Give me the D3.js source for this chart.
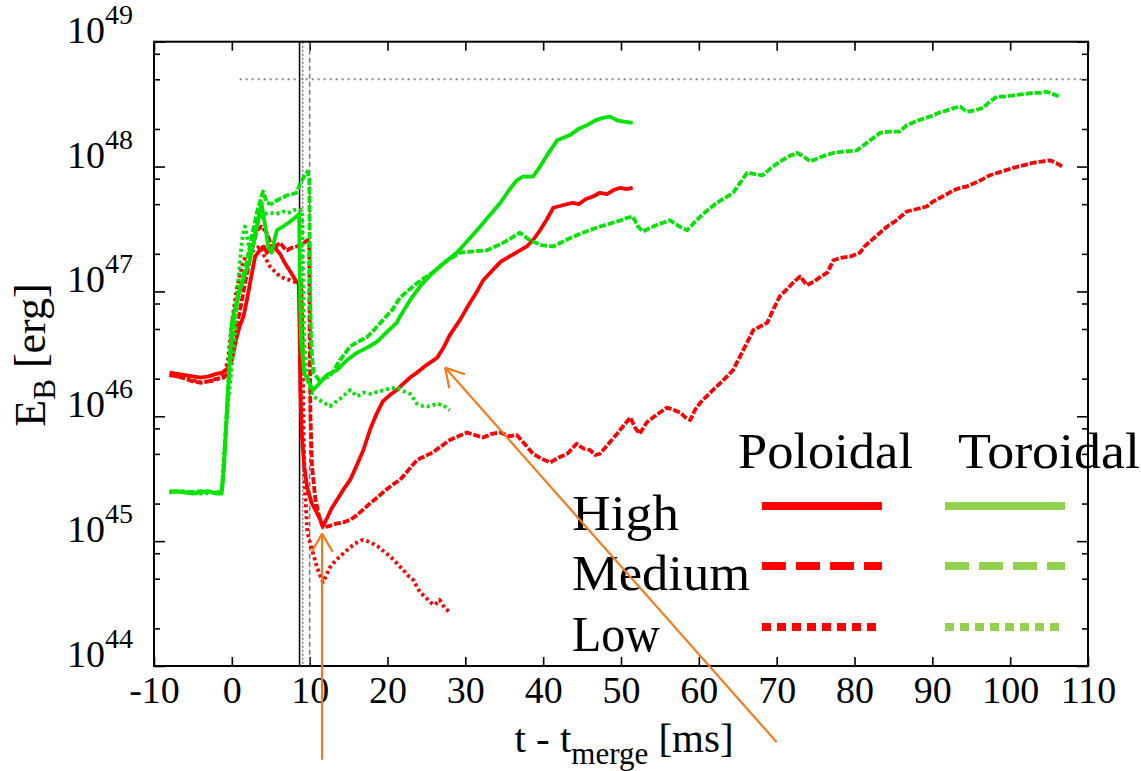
<!DOCTYPE html>
<html lang="en">
<head>
<meta charset="UTF-8" />
<title>Magnetic field energy</title>
<script src="https://d3js.org/d3.v7.min.js"></script>
<style>
  body { margin: 0; background: #fff; }
  svg { display: block; }
  svg text { font-family: "Liberation Serif", Tinos, "Times New Roman", "DejaVu Serif", serif !important; fill: #000; }
</style>
</head>
<body>
<svg id="chart" width="1141" height="771"></svg>
<script>
// values are [t - t_merge (ms), log10(E_B / erg)]
const polHigh = [[-8,46.35],[-7,46.34],[-6,46.33],[-5,46.32],[-4,46.31],[-3,46.32],[-2,46.34],[-1.2,46.35],[-0.6,46.38],[0,46.45],[0.5,46.6],[1,46.72],[1.5,46.8],[2,46.95],[2.5,47.12],[3,47.28],[3.6,47.33],[4.1,47.36],[4.5,47.31],[5,47.34],[5.4,47.37],[5.8,47.33],[6.2,47.3],[6.7,47.24],[7.1,47.2],[7.5,47.16],[7.9,47.12],[8.3,47.08],[8.6,47.06],[8.7,46.7],[8.8,46.2],[9,45.85],[9.3,45.6],[9.7,45.42],[10.3,45.3],[10.9,45.23],[11.3,45.18],[11.7,45.12],[12.2,45.18],[12.8,45.26],[13.5,45.33],[14.3,45.41],[15.2,45.49],[16,45.6],[16.9,45.73],[17.8,45.9],[18.6,46.02],[19.4,46.12],[20.3,46.17],[21.2,46.21],[22,46.26],[22.9,46.31],[23.8,46.35],[25,46.41],[26.4,46.47],[27.2,46.55],[28,46.65],[29.3,46.77],[30.5,46.9],[31.5,47],[32.3,47.09],[33.5,47.17],[34.6,47.24],[35.7,47.28],[36.8,47.32],[37.9,47.36],[38.8,47.42],[39.6,47.49],[40.5,47.58],[41.3,47.67],[42.5,47.69],[43.8,47.71],[44.6,47.7],[45.5,47.74],[46.4,47.76],[47.3,47.79],[48.2,47.78],[49,47.81],[49.9,47.83],[50.7,47.82],[51.5,47.83]];

const polMedium = [[-8,46.33],[-7,46.32],[-6,46.3],[-5,46.28],[-4,46.27],[-3,46.28],[-2,46.3],[-1,46.31],[-0.5,46.35],[0,46.5],[0.6,46.7],[1.2,46.9],[1.8,47.1],[2.4,47.28],[3.2,47.49],[3.8,47.52],[4.5,47.47],[5,47.38],[5.3,47.33],[5.8,47.37],[6.2,47.39],[6.7,47.35],[7.1,47.33],[7.7,47.35],[8.3,47.36],[8.8,47.37],[9.3,47.39],[9.7,47.41],[9.95,47.4],[10,46.6],[10.1,46],[10.3,45.6],[10.7,45.35],[11.2,45.2],[11.7,45.11],[12.5,45.12],[13.4,45.14],[14.3,45.15],[15.2,45.17],[16.1,45.21],[17,45.26],[17.9,45.31],[18.7,45.35],[19.6,45.4],[20.6,45.45],[21.6,45.49],[22.7,45.57],[23.8,45.65],[24.8,45.68],[25.8,45.71],[26.9,45.76],[28,45.81],[29.1,45.84],[30.2,45.87],[31.2,45.85],[32.3,45.83],[33.4,45.86],[34.5,45.87],[35.6,45.84],[36.6,45.85],[37.6,45.78],[38.7,45.7],[39.8,45.66],[40.9,45.63],[42,45.67],[43.1,45.7],[44.3,45.78],[45.2,45.74],[46,45.73],[46.7,45.69],[47.3,45.7],[48.4,45.78],[49.5,45.86],[50.4,45.93],[51.2,45.99],[51.8,45.91],[52.4,45.86],[53.3,45.95],[54.1,45.99],[55,46.03],[55.9,46.07],[56.8,46.05],[57.6,46.03],[58.3,45.99],[58.9,45.97],[59.5,46.05],[60.2,46.11],[61,46.16],[61.8,46.21],[63,46.28],[64.4,46.37],[65.3,46.48],[66.2,46.59],[67,46.69],[67.9,46.72],[68.8,46.75],[69.6,46.86],[70.4,46.96],[71.2,47.01],[72.1,47.07],[73,47.12],[73.9,47.05],[74.8,47.08],[75.7,47.12],[76.5,47.15],[77.3,47.25],[78.4,47.27],[79.5,47.28],[80.7,47.31],[81.3,47.36],[82,47.4],[83.1,47.46],[84.2,47.52],[85.4,47.57],[86.7,47.64],[88,47.66],[89.3,47.68],[90.1,47.72],[91,47.75],[91.9,47.78],[92.7,47.81],[93.6,47.83],[94.4,47.84],[95.9,47.88],[97.4,47.93],[98.9,47.96],[100.4,47.99],[101.7,48.01],[102.9,48.03],[104,48.04],[105.1,48.05],[105.9,48.03],[106.7,48]];

const polLow = [[-8,46.33],[-6,46.31],[-4,46.27],[-2,46.29],[-1,46.33],[-0.5,46.45],[0,46.75],[0.6,47.01],[1.1,47.15],[1.5,47.25],[2.2,47.3],[2.8,47.33],[3.6,47.36],[4.2,47.28],[4.9,47.2],[5.5,47.16],[6.2,47.12],[6.9,47.1],[7.5,47.09],[8.3,47.07],[8.9,47.05],[9.1,46.6],[9.2,45.9],[9.4,45.4],[9.7,45.07],[10.3,44.93],[11,44.78],[11.7,44.67],[12.6,44.79],[13.4,44.85],[14.3,44.9],[15.2,44.95],[16.1,44.99],[16.8,45.01],[17.4,45],[18.1,44.98],[18.7,44.96],[19.5,44.92],[20.3,44.88],[21.1,44.83],[22,44.77],[22.7,44.72],[23.3,44.69],[23.8,44.63],[24.2,44.59],[24.9,44.55],[25.5,44.51],[26.1,44.49],[26.7,44.53],[27.3,44.47],[28,44.43]];

const torHigh = [[-8,45.39],[-7,45.4],[-6,45.39],[-5,45.38],[-4,45.39],[-3,45.4],[-2,45.38],[-1.3,45.38],[-1,45.6],[-0.7,45.95],[-0.4,46.3],[0,46.75],[0.7,46.95],[1.5,47.1],[2.3,47.25],[3,47.45],[3.8,47.71],[4.3,47.52],[4.7,47.35],[5.1,47.31],[5.5,47.42],[5.8,47.49],[6.6,47.52],[7.5,47.56],[8.3,47.6],[8.65,47.62],[8.75,47],[8.9,46.6],[9.3,46.35],[10.4,46.21],[11.2,46.26],[12.2,46.33],[13.5,46.37],[14.8,46.45],[16.1,46.51],[17.4,46.55],[18.7,46.6],[20,46.68],[21.2,46.75],[21.6,46.8],[22.9,46.93],[24.3,47.05],[25.8,47.15],[27.3,47.23],[28.9,47.31],[30.2,47.4],[31.5,47.49],[33,47.6],[34.5,47.71],[35.6,47.81],[36.6,47.89],[37.4,47.92],[38.7,47.92],[39.6,48],[40.7,48.11],[41.8,48.21],[43.4,48.25],[44.5,48.3],[45.6,48.33],[46.7,48.37],[47.7,48.39],[48.6,48.4],[49.5,48.37],[50.4,48.36],[51.5,48.35]];

const torMedium = [[-8,45.4],[-6,45.39],[-4,45.4],[-2,45.39],[-1.3,45.39],[-1,45.65],[-0.6,46.1],[-0.2,46.5],[0.3,46.8],[1,47],[1.8,47.2],[2.6,47.45],[3.3,47.65],[4,47.8],[4.5,47.71],[5.1,47.7],[5.8,47.73],[6.5,47.75],[7.1,47.77],[7.8,47.78],[8.3,47.79],[8.8,47.87],[9.3,47.92],[9.7,47.96],[9.95,47.9],[10.05,47],[10.2,46.55],[10.5,46.35],[11.2,46.29],[12.6,46.32],[13.9,46.45],[15.2,46.56],[16.3,46.6],[17.3,46.63],[18.4,46.7],[19.4,46.77],[20.7,46.86],[21.6,46.95],[22.9,47.02],[24.3,47.09],[25.8,47.15],[27.5,47.24],[29.3,47.31],[31,47.32],[32.8,47.33],[34.9,47.39],[37,47.47],[38.3,47.41],[39.8,47.37],[41.3,47.36],[43.2,47.42],[45.1,47.47],[47.3,47.52],[49.5,47.56],[50.8,47.59],[51.5,47.6],[52.2,47.52],[52.8,47.48],[54.5,47.53],[56.3,47.57],[57.5,47.52],[58.5,47.49],[59.4,47.55],[60.2,47.6],[61.3,47.66],[62.3,47.71],[63.4,47.75],[64.4,47.79],[65.3,47.87],[66.2,47.95],[67.2,47.94],[68.2,47.93],[69.3,47.99],[70.4,48.04],[71.5,48.08],[72.6,48.11],[73.5,48.08],[74.3,48.04],[75.8,48.08],[77.3,48.11],[78.8,48.12],[80.3,48.13],[81.8,48.2],[83.3,48.27],[84.5,48.28],[85.8,48.28],[86.7,48.33],[88.2,48.37],[89.7,48.4],[90.8,48.43],[91.9,48.45],[92.8,48.47],[93.6,48.48],[94.4,48.44],[95.5,48.45],[96.5,48.47],[97.4,48.52],[98.3,48.56],[99.3,48.56],[100.4,48.57],[101.7,48.58],[102.9,48.59],[103.8,48.59],[104.7,48.6],[105.5,48.58],[106.4,48.56]];

const torLow = [[-8,45.39],[-6,45.4],[-4,45.38],[-2,45.39],[-1.3,45.39],[-1,45.7],[-0.5,46.1],[0,46.4],[0.4,46.63],[0.8,47.07],[1.3,47.41],[1.7,47.52],[2.3,47.33],[2.9,47.45],[3.5,47.58],[4.2,47.62],[4.9,47.63],[5.7,47.62],[6.6,47.64],[7.3,47.63],[7.9,47.65],[8.6,47.66],[9.05,47.65],[9.15,47],[9.3,46.6],[9.7,46.3],[10.4,46.16],[11.5,46.12],[12.6,46.08],[13.9,46.14],[15.2,46.21],[16.1,46.16],[17,46.19],[17.8,46.18],[19,46.2],[20.1,46.22],[21.2,46.23],[22.1,46.2],[22.9,46.18],[23.8,46.1],[24.6,46.08],[25.5,46.08],[26.3,46.1],[27.1,46.09],[28,46.05]];

// black hole formation times for high / low / medium resolution
const bhTimes = [8.7, 9.1, 10.0];
const limitEnergy = 5e48;
const limitStart = 1;

const xTicks = [-10, 0, 10, 20, 30, 40, 50, 60, 70, 80, 90, 100, 110];
const yExponents = [44, 45, 46, 47, 48, 49];
const minorMults = [2, 5, 8];

const resolutions = ["High", "Medium", "Low"];
const components = ["Poloidal", "Toroidal"];

// orange annotation arrows, [t, log10 E] of tail and tip
const arrowTails = [[11.6, 43.25], [70.0, 43.39]];
const arrowTips = [[11.6, 45.06], [27.4, 46.39]];

const W = 1141, H = 771;
const plotL = 154, plotR = 1088, plotT = 41.7, plotB = 666;

const svg = d3.select("#chart");
svg.append("rect").attr("width", W).attr("height", H).attr("fill", "#fff");

const x = d3.scaleLinear().domain([-10, 110]).range([plotL, plotR]);
const y = d3.scaleLog().domain([1e44, 1e49]).range([plotB, plotT]);

const red = "#ff0000", green = "#00e400";
const styles = {
  High: { dash: null },
  Medium: { dash: "7,2" },
  Low: { dash: "3,3" }
};

const series = [
  { data: polHigh, color: red, res: "High" },
  { data: polMedium, color: red, res: "Medium" },
  { data: polLow, color: red, res: "Low" },
  { data: torHigh, color: green, res: "High" },
  { data: torMedium, color: green, res: "Medium" },
  { data: torLow, color: green, res: "Low" }
];

// axes: ticks point inward and are mirrored on all sides
const minorVals = [];
yExponents.slice(0, -1).forEach(e => minorMults.forEach(m => minorVals.push(m * Math.pow(10, e))));
const majorVals = yExponents.map(e => Math.pow(10, e));

function addY(axisFn, xPos, vals, size) {
  svg.append("g")
    .attr("transform", `translate(${xPos},0)`)
    .call(axisFn(y).tickValues(vals).tickSizeInner(size).tickSizeOuter(0).tickFormat(""))
    .call(g => g.select(".domain").remove())
    .call(g => g.selectAll("line").attr("stroke", "#000").attr("stroke-width", 1.6));
}
addY(d3.axisLeft, plotL, majorVals, -11);
addY(d3.axisLeft, plotL, minorVals, -6);
addY(d3.axisRight, plotR, majorVals, -11);
addY(d3.axisRight, plotR, minorVals, -6);

svg.append("g")
  .attr("transform", `translate(0,${plotB})`)
  .call(d3.axisBottom(x).tickValues(xTicks).tickSizeInner(-9).tickSizeOuter(0).tickPadding(10)
    .tickFormat(d => String(d)))
  .call(g => g.select(".domain").remove())
  .call(g => g.selectAll("line").attr("stroke", "#000").attr("stroke-width", 1.6))
  .call(g => g.selectAll("text")
    .attr("font-size", 38)
    .attr("fill", "#000"));

svg.append("g")
  .attr("transform", `translate(0,${plotT})`)
  .call(d3.axisTop(x).tickValues(xTicks).tickSizeInner(-9).tickSizeOuter(0).tickFormat(""))
  .call(g => g.select(".domain").remove())
  .call(g => g.selectAll("line").attr("stroke", "#000").attr("stroke-width", 1.6));

// y tick labels 10^n
const yLab = svg.append("g");
yExponents.forEach(e => {
  const t = yLab.append("text")
    .attr("x", 133)
    .attr("y", y(Math.pow(10, e)) + 1)
    .attr("text-anchor", "end")
    .attr("font-size", 38);
  t.append("tspan").text("10");
  t.append("tspan").attr("font-size", 28).attr("dy", -19).text(e);
});

// reference lines
const bhStyle = [
  { color: "#000", dash: null, width: 1.5 },
  { color: "#777", dash: "2,2", width: 1.5 },
  { color: "#777", dash: "5,3", width: 1.5 }
];
bhTimes.forEach((t, i) => {
  svg.append("line")
    .attr("x1", x(t)).attr("x2", x(t))
    .attr("y1", plotT).attr("y2", plotB)
    .attr("stroke", bhStyle[i].color)
    .attr("stroke-width", bhStyle[i].width)
    .attr("stroke-dasharray", bhStyle[i].dash);
});

svg.append("line")
  .attr("x1", x(limitStart)).attr("x2", x(110))
  .attr("y1", y(limitEnergy)).attr("y2", y(limitEnergy))
  .attr("stroke", "#888")
  .attr("stroke-width", 2)
  .attr("stroke-dasharray", "2,4");

// data lines
const line = d3.line()
  .x(d => x(d[0]))
  .y(d => y(Math.pow(10, d[1])));

series.forEach(s => {
  svg.append("path")
    .datum(s.data)
    .attr("fill", "none")
    .attr("stroke", s.color)
    .attr("stroke-width", 3.8)
    .attr("stroke-linejoin", "round")
    .attr("stroke-dasharray", styles[s.res].dash)
    .attr("d", line);
});

// frame
svg.append("rect")
  .attr("x", plotL).attr("y", plotT)
  .attr("width", plotR - plotL).attr("height", plotB - plotT)
  .attr("fill", "none")
  .attr("stroke", "#000")
  .attr("stroke-width", 2);

// axis titles
const xt = svg.append("text")
  .attr("x", 624).attr("y", 752)
  .attr("text-anchor", "middle")
  .attr("font-size", 41);
xt.append("tspan").text("t - t");
xt.append("tspan").attr("font-size", 31).attr("dy", 12).text("merge");
xt.append("tspan").attr("dy", -12).text(" [ms]");

const yt = svg.append("text")
  .attr("transform", "translate(45,355) rotate(-90)")
  .attr("text-anchor", "middle")
  .attr("font-size", 44);
yt.append("tspan").text("E");
yt.append("tspan").attr("font-size", 31).attr("dy", 10).text("B");
yt.append("tspan").attr("dy", -10).text(" [erg]");

// legend
const legend = svg.append("g");
const colX = [762, 945];
const colColor = [red, "#92d050"];
const rowY = [506, 566, 627];
const legendDash = { High: null, Medium: "24,10", Low: "9,6" };
const labelWidth = { Poloidal: 175, Toroidal: 182, High: 107, Medium: 178, Low: 88 };

function legendText(txt, lx, ly) {
  legend.append("text")
    .attr("x", lx).attr("y", ly)
    .attr("font-size", 50)
    .attr("textLength", labelWidth[txt])
    .attr("lengthAdjust", "spacingAndGlyphs")
    .text(txt);
}
legendText(components[0], 738, 468);
legendText(components[1], 958, 468);
resolutions.forEach((r, i) => {
  legendText(r, 572, rowY[i] + 24);
  colX.forEach((cx, j) => {
    legend.append("line")
      .attr("x1", cx).attr("x2", cx + 120)
      .attr("y1", rowY[i]).attr("y2", rowY[i])
      .attr("stroke", colColor[j])
      .attr("stroke-width", 8)
      .attr("stroke-dasharray", legendDash[r]);
  });
});

// orange arrows
const orange = "#f57a1e";
arrowTails.forEach((tail, i) => {
  const tip = arrowTips[i];
  const x0 = x(tail[0]), y0 = y(Math.pow(10, tail[1]));
  const x1 = x(tip[0]), y1 = y(Math.pow(10, tip[1]));
  const ang = Math.atan2(y0 - y1, x0 - x1);
  const len = 21, spread = Math.PI / 6;
  svg.append("line")
    .attr("x1", x0).attr("y1", y0).attr("x2", x1).attr("y2", y1)
    .attr("stroke", orange).attr("stroke-width", 2.2);
  [-spread, spread].forEach(a => {
    svg.append("line")
      .attr("x1", x1).attr("y1", y1)
      .attr("x2", x1 + len * Math.cos(ang + a))
      .attr("y2", y1 + len * Math.sin(ang + a))
      .attr("stroke", orange).attr("stroke-width", 2.2);
  });
});
</script>
</body>
</html>
